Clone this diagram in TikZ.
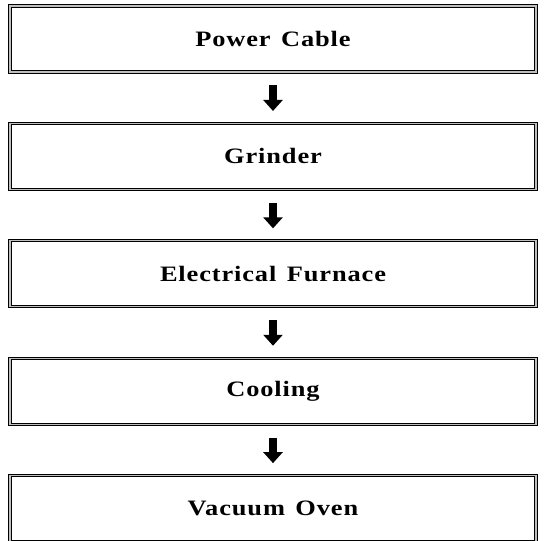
\documentclass[tikz,border=0pt]{standalone}
\usepackage{fontspec}
\setmainfont{Liberation Serif}
\newfontfamily\stagefont[FakeStretch=1.2, LetterSpace=4]{Liberation Serif}
\usetikzlibrary{arrows.meta,positioning}

\tikzset{
  stagebox/.style={draw=black, line width=0.9pt, double=gray!50, double distance=1.3pt,
    minimum width=526pt, minimum height=66pt, inner sep=0pt,
    font=\stagefont\fontsize{22pt}{26pt}\selectfont\bfseries},
  flowarrow/.style={line width=7.5pt, -{Triangle[width=19pt,length=11pt]},
    shorten <=13pt, shorten >=12pt}
}

\begin{document}
\begin{tikzpicture}[x=1pt, y=1pt]
  \useasboundingbox (0,0) rectangle (544,-541);

  \node[stagebox] (cable) at (273,-39) {Power\hspace{3pt} Cable};
  \node[stagebox, below=50.5pt of cable] (grinder) {Grinder};
  \node[stagebox, below=50.5pt of grinder] (furnace) {Electrical\hspace{3pt} Furnace};
  \node[stagebox, below=50.5pt of furnace] (cooling) {Cooling};
  \node[stagebox, below=50.5pt of cooling] (oven) {Vacuum\hspace{3pt} Oven};

  \draw[flowarrow] (cable) -- (grinder);
  \draw[flowarrow] (grinder) -- (furnace);
  \draw[flowarrow] (furnace) -- (cooling);
  \draw[flowarrow] (cooling) -- (oven);
\end{tikzpicture}
\end{document}
